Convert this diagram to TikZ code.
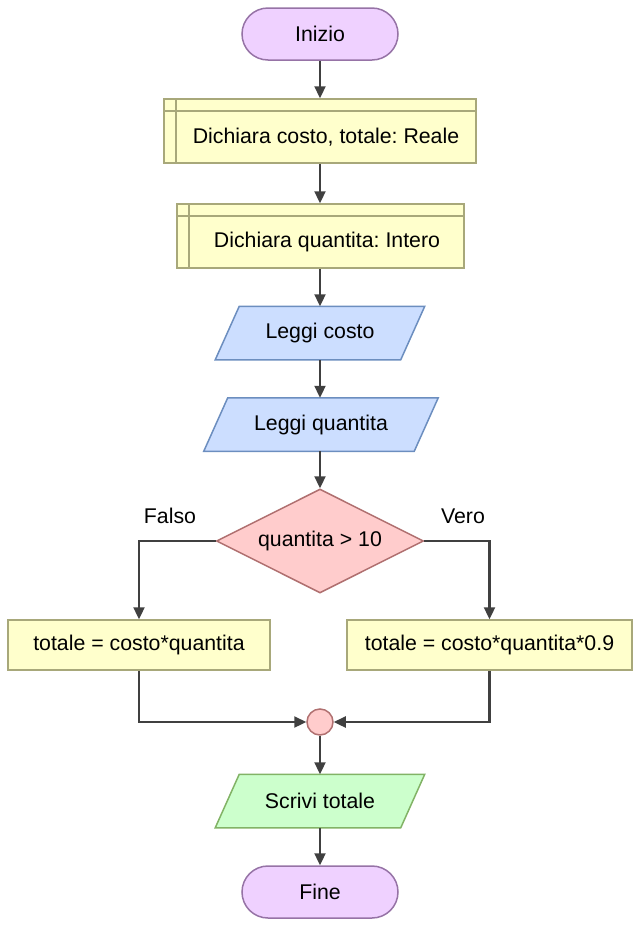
\documentclass[tikz,border=0pt]{standalone}
\usepackage{fontspec}
\setmainfont{Liberation Sans}
\frenchspacing
\usetikzlibrary{arrows.meta,shapes.geometric,calc}
\definecolor{termfill}{HTML}{EFD1FF}
\definecolor{termdraw}{HTML}{9673A6}
\definecolor{declfill}{HTML}{FFFFCC}
\definecolor{decldraw}{HTML}{A8A87A}
\definecolor{iofill}{HTML}{CCDEFF}
\definecolor{iodraw}{HTML}{6C8EBF}
\definecolor{decfill}{HTML}{FFCCCC}
\definecolor{decdraw}{HTML}{B07070}
\definecolor{outfill}{HTML}{CCFFCC}
\definecolor{outdraw}{HTML}{82B366}
\definecolor{arrowcol}{HTML}{404040}
\tikzset{
  base/.style={font=\fontsize{21.3}{25}\selectfont, inner sep=0pt, line width=1.5pt},
  term/.style={base, rectangle, rounded corners=26pt, draw=termdraw, fill=termfill,
     minimum width=156pt, minimum height=52pt},
  decl/.style={base, rectangle, draw=decldraw, fill=declfill, minimum height=64pt,
     path picture={
       \draw[decldraw, line width=1.5pt]
         ([xshift=12pt]path picture bounding box.north west) --
         ([xshift=12pt]path picture bounding box.south west);
       \draw[decldraw, line width=1.5pt]
         ([yshift=-12pt]path picture bounding box.north west) --
         ([yshift=-12pt]path picture bounding box.north east);
     }},
  iotext/.style={base, rectangle, minimum height=52pt},
  procbox/.style={base, rectangle, draw=decldraw, fill=declfill, minimum height=50pt},
  decision/.style={base, diamond, draw=decdraw, fill=decfill, aspect=2,
     minimum width=207pt, minimum height=104pt},
  junction/.style={base, circle, draw=decdraw, fill=decfill, minimum size=26pt},
  flow/.style={draw=arrowcol, line width=2.3pt, -{Triangle[length=12pt,width=11pt]}},
  lbl/.style={font=\fontsize{21.3}{25}\selectfont, inner sep=0pt},
}
\begin{document}
\begin{tikzpicture}[x=1pt,y=-1pt]
\useasboundingbox (0,0) rectangle (641,927);

\node[term] (start) at (320,34) {Inizio};

\node[decl, minimum width=312pt,
  label={[lbl, xshift=6pt, yshift=-6pt]center:Dichiara costo, totale: Reale}] (d1) at (320,131) {};
\node[decl, minimum width=287pt,
  label={[lbl, xshift=6.5pt, yshift=-6pt]center:Dichiara quantita: Intero}] (d2) at (320.5,236) {};

% Leggi costo
\node[iotext, minimum width=184pt] (lc) at (320,333) {};
\draw[iodraw, fill=iofill, line width=1.5pt] ($(lc.south west)+(-12,0)$) -- ($(lc.south east)+(-12,0)$) -- ($(lc.north east)+(12,0)$) -- ($(lc.north west)+(12,0)$) -- cycle;
\node[lbl] at (lc.center) {Leggi costo};

% Leggi quantita
\node[iotext, minimum width=209pt] (lq) at (321,424.5) {};
\draw[iodraw, fill=iofill, line width=1.5pt] ($(lq.south west)+(-12,0)$) -- ($(lq.south east)+(-12,0)$) -- ($(lq.north east)+(12,0)$) -- ($(lq.north west)+(12,0)$) -- cycle;
\node[lbl] at (lq.center) {Leggi quantita};

\node[decision] (dec) at (320,541) {quantita > 10};

\node[procbox, minimum width=262pt] (lb) at (139,645) {totale = costo*quantita};
\node[procbox, minimum width=285pt] (rb) at (489.5,645) {totale = costo*quantita*0.9};

\node[junction] (j) at (320,722) {};

% Scrivi totale
\node[iotext, minimum width=184pt] (out) at (320,801) {};
\draw[outdraw, fill=outfill, line width=1.5pt] ($(out.south west)+(-12,0)$) -- ($(out.south east)+(-12,0)$) -- ($(out.north east)+(12,0)$) -- ($(out.north west)+(12,0)$) -- cycle;
\node[lbl] at (out.center) {Scrivi totale};

\node[term] (end) at (320,892) {Fine};

\node[lbl] (falso) at (170,516) {Falso};
\node[lbl] (vero) at (463,516) {Vero};

\draw[flow] (start) -- (d1);
\draw[flow] (d1.south -| start) -- (d2.north -| start);
\draw[flow] (d2.south -| start) -- (lc.north -| start);
\draw[flow] (lc) -- (lq.north -| lc);
\draw[flow] (lq.south -| lc) -- (dec);
\draw[flow] (dec.west) -| (lb.north);
\draw[flow] (dec.east) -| (rb.north);
\draw[flow] (lb.south) |- (j.west);
\draw[flow] (rb.south) |- (j.east);
\draw[flow] (j) -- (out);
\draw[flow] (out) -- (end);
\end{tikzpicture}
\end{document}
